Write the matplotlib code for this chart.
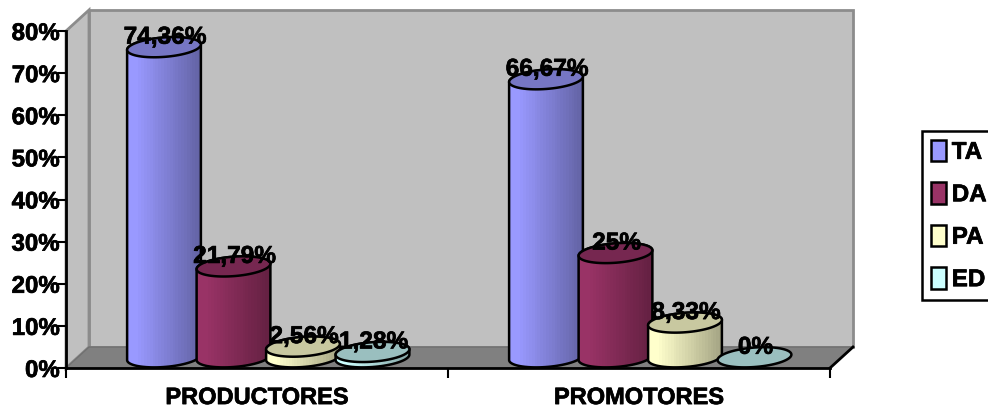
import matplotlib
matplotlib.use("Agg")
import matplotlib.pyplot as plt
import matplotlib.patheffects as pe
import numpy as np
from matplotlib.patches import Patch, Polygon
from matplotlib.colors import LinearSegmentedColormap

categories = ["PRODUCTORES", "PROMOTORES"]
series = ["TA", "DA", "PA", "ED"]
ta_values = [74.36, 66.67]
da_values = [21.79, 25.0]
pa_values = [2.56, 8.33]
ed_values = [1.28, 0.0]
value_labels = [
    ["74,36%", "66,67%"],
    ["21,79%", "25%"],
    ["2,56%", "8,33%"],
    ["1,28%", "0%"],
]
y_ticks = [0, 10, 20, 30, 40, 50, 60, 70, 80]

SIDE_LIGHT = ["#9999FF", "#993366", "#FFFFCC", "#CCFFFF"]
SIDE_DARK = ["#6464A6", "#642142", "#A6A685", "#85A6A6"]
TOP_COLOR = ["#7676C4", "#762750", "#C8C8A0", "#9ABFBF"]
WALL = "#C0C0C0"
WALL_EDGE = "#8C8C8C"
FLOOR = "#808080"

plt.rcParams["font.family"] = ["Liberation Sans", "DejaVu Sans"]
plt.rcParams["font.weight"] = "bold"

W, H = 988, 408
X0, X1, Y0, Y1 = 66, 830, 368, 31
PX_X = 2 / (X1 - X0)
PX_Y = 80 / (Y0 - Y1)
DEPTH_X = 23 * PX_X
DEPTH_Y = 21 * PX_Y
HEAVY = [pe.withStroke(linewidth=0.5, foreground="black")]

fig = plt.figure(figsize=(W / 100, H / 100), dpi=100, facecolor="white")
ax = fig.add_axes([X0 / W, 1 - Y0 / H, (X1 - X0) / W, (Y0 - Y1) / H])
ax.set_xlim(0, 2)
ax.set_ylim(0, 80)
ax.patch.set_visible(False)


def ellipse_points(cx, cy, a=37, b=9.7, tilt=4.5, n=91):
    t = np.linspace(0, 2 * np.pi, n)
    th = np.radians(tilt)
    px = a * np.cos(t) * np.cos(th) - b * np.sin(t) * np.sin(th)
    py = a * np.cos(t) * np.sin(th) + b * np.sin(t) * np.cos(th)
    return np.column_stack([cx + px * PX_X, cy + py * PX_Y])


def draw_cylinder(ax, cx, value, idx):
    base_y = DEPTH_Y / 2 + 0.05
    top_y = base_y + value * 0.99
    top = ellipse_points(cx, top_y)
    base = ellipse_points(cx, base_y)
    if value > 0:
        # side outline: lower half of the base, then upper half of the top
        outline = np.vstack([base[45:], top[:46]])
        body = Polygon(outline, closed=True, facecolor="none", edgecolor="black",
                       linewidth=1.8, zorder=4 + idx * 0.1, joinstyle="round")
        ax.add_patch(body)
        cmap = LinearSegmentedColormap.from_list(
            "side", [(0, SIDE_LIGHT[idx]), (0.12, SIDE_LIGHT[idx]), (1, SIDE_DARK[idx])])
        shade = np.linspace(0, 1, 26).reshape(1, -1)
        im = ax.imshow(shade, cmap=cmap, aspect="auto", interpolation="nearest",
                       extent=(outline[:, 0].min(), outline[:, 0].max(), 0, 80),
                       zorder=3.9 + idx * 0.1)
        im.set_clip_path(body)
    ax.add_patch(Polygon(top, closed=True, facecolor=TOP_COLOR[idx], edgecolor="black",
                         linewidth=1.8, zorder=4.05 + idx * 0.1))
    return top_y


# 3D box behind the bars
ax.add_patch(Polygon([(DEPTH_X, DEPTH_Y), (2 + DEPTH_X, DEPTH_Y), (2 + DEPTH_X, 80 + DEPTH_Y),
                      (DEPTH_X, 80 + DEPTH_Y)], closed=True, facecolor=WALL,
                     edgecolor=WALL_EDGE, linewidth=2, clip_on=False, zorder=1))
ax.add_patch(Polygon([(0, 0), (DEPTH_X, DEPTH_Y), (DEPTH_X, 80 + DEPTH_Y), (0, 80)],
                     closed=True, facecolor=WALL, edgecolor=WALL_EDGE, linewidth=2,
                     clip_on=False, zorder=1))
ax.add_patch(Polygon([(0, 0), (DEPTH_X, DEPTH_Y), (2 + DEPTH_X, DEPTH_Y), (2, 0)],
                     closed=True, facecolor=FLOOR, edgecolor="#707070", linewidth=1,
                     clip_on=False, zorder=1.5))
ax.plot([2, 2 + DEPTH_X], [0, DEPTH_Y], color="black", lw=2, clip_on=False, zorder=2)

# bars, left to right so each one overlaps the previous
all_values = [ta_values, da_values, pa_values, ed_values]
offsets_px = [-93, -23.5, 46, 115.5]
for g in range(len(categories)):
    for i, values in enumerate(all_values):
        cx = g + 0.5 + offsets_px[i] * PX_X
        top_y = draw_cylinder(ax, cx, values[g], i)
        ax.text(cx + PX_X, top_y + 10 * PX_Y, value_labels[i][g], ha="center", va="center",
                fontsize=17.6, color="black", zorder=6, clip_on=False, path_effects=HEAVY)

ax.set_xlim(0, 2)
ax.set_ylim(0, 80)

for side in ["top", "right"]:
    ax.spines[side].set_visible(False)
for side in ["left", "bottom"]:
    ax.spines[side].set_linewidth(2)
    ax.spines[side].set_zorder(5)
ax.set_yticks(y_ticks)
ax.set_yticklabels([f"{v}%" for v in y_ticks], fontsize=17.3, fontweight="bold",
                   path_effects=HEAVY)
ax.set_xticks([0, 1, 2])
ax.set_xticklabels([])
ax.set_xticks([0.5, 1.5], minor=True)
ax.set_xticklabels(categories, minor=True, fontsize=17, fontweight="bold",
                   path_effects=HEAVY)
ax.tick_params(axis="y", length=6, width=1.5, pad=-1.5)
ax.tick_params(axis="x", which="major", length=7, width=1.5)
ax.tick_params(axis="x", which="minor", length=0, pad=13)

handles = [Patch(facecolor=c, edgecolor="black", linewidth=1.8, label=s)
           for c, s in zip(SIDE_LIGHT, series)]
leg = fig.legend(handles=handles, loc="upper left", bbox_to_anchor=(922 / W, 1 - 131 / H),
                 fontsize=17.4, frameon=True, fancybox=False, edgecolor="black", framealpha=1,
                 borderpad=0.36, labelspacing=0.76, handlelength=0.62, handleheight=1.0,
                 handletextpad=0.25, borderaxespad=0)
leg.get_frame().set_linewidth(1.8)
for t in leg.get_texts():
    t.set_path_effects(HEAVY)

plt.savefig("out.png", dpi=100)
